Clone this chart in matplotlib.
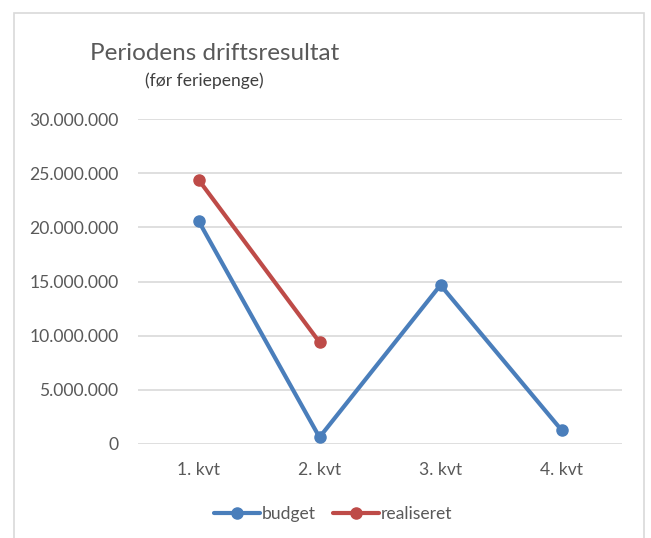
import matplotlib
matplotlib.use("Agg")
import matplotlib.pyplot as plt
from matplotlib.patches import Rectangle

plt.rcParams['font.family'] = ['Lato', 'DejaVu Sans']

# --- Data ---
kvartaler = ["1. kvt", "2. kvt", "3. kvt", "4. kvt"]
budget = [20600000, 620000, 14670000, 1290000]
realiseret = [24400000, 9400000]
y_ticks = [0, 5000000, 10000000, 15000000, 20000000, 25000000, 30000000]

tekst_farve = "#595959"
blaa = "#4A7EBB"
roed = "#BE4B48"


def fmt(v):
    return f"{v:,.0f}".replace(",", ".")


fig = plt.figure(figsize=(6.51, 5.38), dpi=100)

# ramme rundt om diagrammet (ingen bund)
fig.add_artist(Rectangle((14 / 651, -0.05), 630 / 651, 1 - 13 / 538 + 0.05,
                         transform=fig.transFigure, fill=False,
                         edgecolor="#D9D9D9", linewidth=1.2))

ax = fig.add_axes([138 / 651, 1 - 444 / 538, 484 / 651, 325 / 538])

x = list(range(len(kvartaler)))
ax.plot(x, budget, color=blaa, linewidth=3, marker="o", markersize=8,
        label="budget", solid_capstyle="round", zorder=3)
ax.plot(x[:len(realiseret)], realiseret, color=roed, linewidth=3, marker="o",
        markersize=8, label="realiseret", solid_capstyle="round", zorder=3)

ax.set_xlim(-0.5, len(kvartaler) - 0.5)
ax.set_ylim(0, 30000000)
ax.set_xticks(x)
ax.set_xticklabels(kvartaler)
ax.set_yticks(y_ticks)
ax.set_yticklabels([fmt(v) for v in y_ticks])

ax.grid(axis="y", color="#D9D9D9", linewidth=1.2)
ax.set_axisbelow(True)
for s in ax.spines.values():
    s.set_visible(False)
ax.tick_params(length=0, labelsize=12.6, colors=tekst_farve)
ax.tick_params(axis="y", pad=14)
ax.tick_params(axis="x", pad=13)

fig.text(215 / 651, 1 - 53 / 538, "Periodens driftsresultat", ha="center",
         va="center", fontsize=17.5, color=tekst_farve)
fig.text(204 / 651, 1 - 81 / 538, "(før feriepenge)", ha="center",
         va="center", fontsize=12.6, color="#404040")

fig.legend(loc="center", bbox_to_anchor=(333 / 651, 1 - 514 / 538), ncol=2,
           frameon=False, fontsize=12.6, labelcolor=tekst_farve,
           handlelength=2.6, handletextpad=0.1, columnspacing=1.0)

fig.savefig("out.png", dpi=100)
